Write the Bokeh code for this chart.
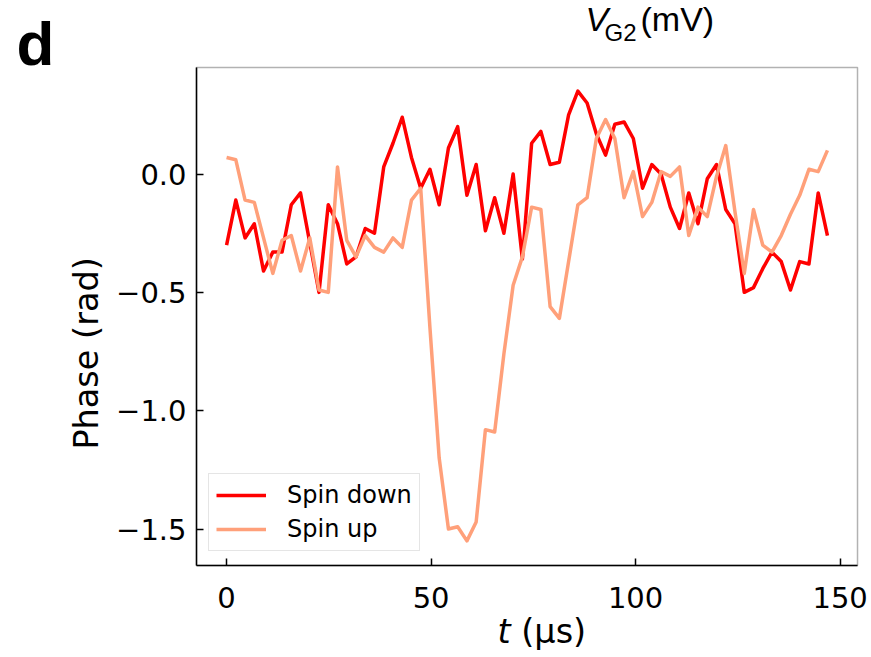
from math import pi
from bokeh.plotting import figure
from bokeh.models import (Range1d, FixedTicker, Label, Legend, LegendItem,
                          LinearAxis, BoxAnnotation)
from bokeh.embed import file_html
from bokeh.resources import INLINE

# sample times (µs)
t_us = [0.0, 2.26, 4.52, 6.78, 9.04, 11.3, 13.56, 15.82, 18.08, 20.34, 22.6, 24.86,
        27.12, 29.38, 31.64, 33.9, 36.16, 38.42, 40.68, 42.94, 45.2, 47.46, 49.72,
        51.98, 54.24, 56.5, 58.76, 61.02, 63.28, 65.54, 67.8, 70.06, 72.32, 74.58,
        76.84, 79.1, 81.36, 83.62, 85.88, 88.14, 90.4, 92.66, 94.92, 97.18, 99.44,
        101.7, 103.96, 106.22, 108.48, 110.74, 113.0, 115.26, 117.52, 119.78, 122.04,
        124.3, 126.56, 128.82, 131.08, 133.34, 135.6, 137.86, 140.12, 142.38, 144.64, 146.9]

# phase (rad), spin down
phase_down = [-0.30, -0.11, -0.27, -0.21, -0.41, -0.33, -0.33, -0.13, -0.08, -0.29,
              -0.50, -0.13, -0.21, -0.38, -0.35, -0.23, -0.25, 0.03, 0.13, 0.24,
              0.07, -0.06, 0.02, -0.13, 0.11, 0.20, -0.09, 0.04, -0.24, -0.10,
              -0.25, 0.00, -0.36, 0.13, 0.18, 0.04, 0.05, 0.25, 0.35, 0.30,
              0.17, 0.08, 0.21, 0.22, 0.15, -0.06, 0.04, 0.00, -0.14, -0.23,
              -0.08, -0.21, -0.02, 0.04, -0.15, -0.21, -0.50, -0.48, -0.40, -0.33,
              -0.37, -0.49, -0.37, -0.38, -0.08, -0.26]

# phase (rad), spin up
phase_up = [0.07, 0.06, -0.11, -0.12, -0.27, -0.42, -0.28, -0.26, -0.41, -0.27,
            -0.49, -0.50, 0.03, -0.28, -0.35, -0.26, -0.31, -0.33, -0.27, -0.31,
            -0.11, -0.06, -0.65, -1.20, -1.50, -1.49, -1.55, -1.47, -1.08, -1.09,
            -0.76, -0.47, -0.35, -0.14, -0.15, -0.56, -0.61, -0.37, -0.13, -0.10,
            0.15, 0.23, 0.15, -0.10, 0.01, -0.18, -0.12, 0.01, -0.01, 0.03,
            -0.26, -0.14, -0.18, -0.01, 0.12, -0.16, -0.42, -0.15, -0.30, -0.33,
            -0.26, -0.17, -0.09, 0.02, 0.01, 0.10]

x_ticks = [0, 50, 100, 150]
y_ticks = [-1.5, -1.0, -0.5, 0.0]
y_tick_labels = ["\u22121.5", "\u22121.0", "\u22120.5", "0.0"]
series_names = ["Spin down", "Spin up"]

# axes box limits (data units) and the whole-canvas view around them
X_LO, X_HI = -7.35, 154.25
Y_LO, Y_HI = -1.654, 0.45

p = figure(width=871, height=657,
           x_range=Range1d(-55.27, 157.67), y_range=Range1d(-2.0427, 0.7331),
           output_backend="svg", toolbar_location=None,
           x_axis_location=None, y_axis_location=None,
           min_border=0)
p.background_fill_color = "white"
p.border_fill_color = "white"
p.outline_line_color = None
p.grid.visible = False

xax = LinearAxis(fixed_location=Y_LO, bounds=(X_LO, X_HI))
yax = LinearAxis(fixed_location=X_LO, bounds=(Y_LO, Y_HI))
for ax in (xax, yax):
    ax.axis_line_color = "black"
    ax.axis_line_width = 1.5
    ax.major_tick_in = 7
    ax.major_tick_out = 0
    ax.major_tick_line_color = "black"
    ax.major_tick_line_width = 1.5
    ax.minor_tick_line_color = None
    ax.major_label_text_font = "DejaVu Sans"
    ax.major_label_text_font_size = "29px"
    ax.major_label_text_color = "black"
xax.ticker = FixedTicker(ticks=x_ticks)
xax.major_label_standoff = 22
yax.ticker = FixedTicker(ticks=y_ticks)
yax.major_label_overrides = {v: s for v, s in zip(y_ticks, y_tick_labels)}
yax.major_label_standoff = 10
p.add_layout(xax, "below")
p.add_layout(yax, "left")

# top and right sides of the axes box
p.add_layout(BoxAnnotation(left=X_LO, right=X_HI, bottom=Y_LO, top=Y_HI,
                           fill_alpha=0, line_color="black", line_width=1.5))

r_down = p.line(t_us, phase_down, line_color="#ff0000", line_width=3.5, line_join="round")
r_up = p.line(t_us, phase_up, line_color="#ffa07a", line_width=3.5, line_join="round")

legend = Legend(items=[LegendItem(label=series_names[0], renderers=[r_down]),
                       LegendItem(label=series_names[1], renderers=[r_up])],
                location=(208, 106), padding=7, spacing=6,
                glyph_width=50, glyph_height=28, label_height=28,
                label_standoff=21, label_text_font="DejaVu Sans",
                label_text_font_size="24px", label_text_color="black",
                border_line_color="#cccccc", border_line_width=1,
                background_fill_color="white", background_fill_alpha=0.8)
p.add_layout(legend)

# axis titles
p.add_layout(Label(x=-34.24, y=-0.758, text="Phase (rad)", angle=pi / 2,
                   text_align="center", text_baseline="middle",
                   text_font="DejaVu Sans", text_font_size="33.5px", text_color="black"))
p.add_layout(Label(x=66.24, y=-2.0173, text="t", text_font_style="italic",
                   text_font="DejaVu Sans", text_font_size="33.5px", text_color="black"))
p.add_layout(Label(x=72.05, y=-2.0173, text="(\u00b5s)",
                   text_font="DejaVu Sans", text_font_size="33.5px", text_color="black"))

# panel letter and label from the panel above
p.add_layout(Label(x=-51.36, y=0.406, text="d", text_font_style="bold",
                   text_font="Liberation Sans", text_font_size="62px", text_color="black"))
p.add_layout(Label(x=87.75, y=0.5726, text="V", text_font_style="italic",
                   text_font="Liberation Sans", text_font_size="34px", text_color="black"))
p.add_layout(Label(x=92.40, y=0.5388, text="G2",
                   text_font="Liberation Sans", text_font_size="24px", text_color="black"))
p.add_layout(Label(x=101.2, y=0.5726, text="(mV)",
                   text_font="Liberation Sans", text_font_size="34px", text_color="black"))

open("out.html", "w").write(file_html(p, INLINE))
